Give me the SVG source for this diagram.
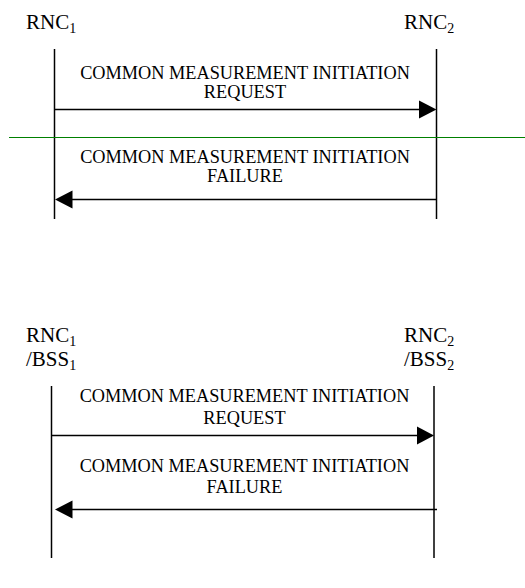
<svg xmlns="http://www.w3.org/2000/svg" width="525" height="588" viewBox="0 0 525 588">
<style>
text{font-family:"Liberation Serif","Times New Roman",serif;fill:#000}
.lbl{font-size:21px}
.sub{font-size:14px}
.msg{font-size:18.3px;text-anchor:middle}
.life{stroke:#000;stroke-width:1.5;fill:none}
.arr{stroke:#000;stroke-width:1.5;fill:none}
.head{fill:#000}
</style>
<rect width="525" height="588" fill="#fff"/>
<g id="rnc1-top"><text class="lbl" x="26" y="29">RNC<tspan class="sub" dy="4">1</tspan></text><line class="life" x1="54.5" y1="49" x2="54.5" y2="219"/></g>
<g id="rnc2-top"><text class="lbl" x="404" y="29">RNC<tspan class="sub" dy="4">2</tspan></text><line class="life" x1="436.5" y1="49" x2="436.5" y2="219"/></g>
<g id="rnc1-bottom"><text class="lbl" x="26" y="342">RNC<tspan class="sub" dy="4">1</tspan></text><text class="lbl" x="26" y="366">/BSS<tspan class="sub" dy="4">1</tspan></text><line class="life" x1="51.5" y1="386" x2="51.5" y2="558"/></g>
<g id="rnc2-bottom"><text class="lbl" x="404" y="342">RNC<tspan class="sub" dy="4">2</tspan></text><text class="lbl" x="404" y="366">/BSS<tspan class="sub" dy="4">2</tspan></text><line class="life" x1="434" y1="386" x2="434" y2="558"/></g>
<g id="connectors">
<line x1="9" y1="137.5" x2="525" y2="137.5" stroke="#008000" stroke-width="1.2"/>
<line class="arr" x1="54.5" y1="109.5" x2="420" y2="109.5"/><polygon class="head" points="436.5,109.5 419,100.5 419,118.5"/>
<text class="msg" x="245" y="79">COMMON MEASUREMENT INITIATION</text><text class="msg" x="245" y="97.5">REQUEST</text>
<line class="arr" x1="436.5" y1="199.5" x2="70" y2="199.5"/><polygon class="head" points="55,199.5 72.5,190.5 72.5,208.5"/>
<text class="msg" x="245" y="163">COMMON MEASUREMENT INITIATION</text><text class="msg" x="245" y="181.5">FAILURE</text>
<line class="arr" x1="51.5" y1="435.5" x2="418" y2="435.5"/><polygon class="head" points="434,435.5 417,426.5 417,444.5"/>
<text class="msg" x="244.5" y="402">COMMON MEASUREMENT INITIATION</text><text class="msg" x="244.5" y="424">REQUEST</text>
<line class="arr" x1="437" y1="509.5" x2="70" y2="509.5"/><polygon class="head" points="55,509.5 72.5,500.5 72.5,518.5"/>
<text class="msg" x="244.5" y="472">COMMON MEASUREMENT INITIATION</text><text class="msg" x="244.5" y="493">FAILURE</text>
</g>
</svg>
